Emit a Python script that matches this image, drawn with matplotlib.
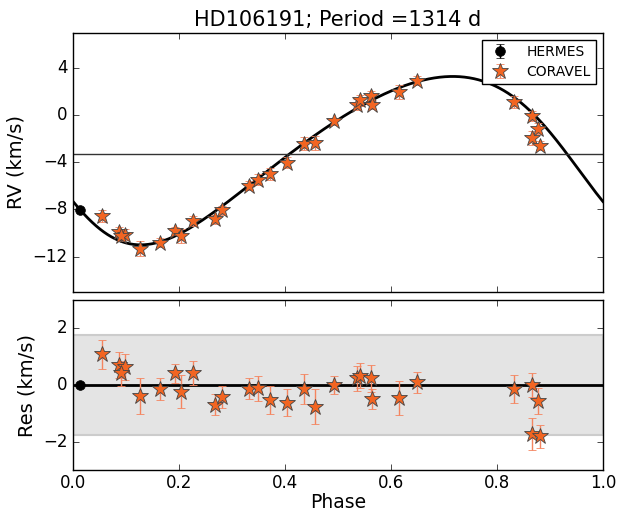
import numpy as np
import matplotlib
matplotlib.use('Agg')
import matplotlib.pyplot as plt

# orbit parameters
period = 1314.0
gamma = -3.3
K = 7.15
ecc = 0.16
omega = np.radians(119.0)
jitter = 1.75

# HERMES point
herm_phase = [0.0126]
herm_rv = [-8.06]
herm_err = [0.05]
herm_res = [0.0]

# CORAVEL points
cor_phase = [0.054, 0.087, 0.0975, 0.091, 0.126, 0.164, 0.192, 0.204, 0.227, 0.267,
             0.281, 0.333, 0.349, 0.371, 0.403, 0.436, 0.456, 0.492, 0.535, 0.542,
             0.562, 0.565, 0.616, 0.649, 0.833, 0.866, 0.877, 0.867, 0.881]
cor_rv = [-8.57, -9.93, -10.13, -10.27, -11.34, -10.83, -9.85, -10.27, -9.0, -8.85,
          -8.06, -5.97, -5.46, -5.03, -4.04, -2.40, -2.35, -0.51, 0.91, 1.27,
          1.61, 0.91, 1.95, 2.95, 1.14, -0.08, -1.13, -1.92, -2.57]
cor_res = [1.09, 0.70, 0.64, 0.41, -0.39, -0.15, 0.41, -0.23, 0.43, -0.69,
           -0.43, -0.14, -0.12, -0.53, -0.62, -0.14, -0.76, 0.0, 0.23, 0.33,
           0.23, -0.50, -0.47, 0.09, -0.15, 0.0, -0.58, -1.73, -1.81]
cor_err = [0.51, 0.45, 0.45, 0.45, 0.63, 0.38, 0.33, 0.58, 0.43, 0.38,
           0.38, 0.37, 0.44, 0.51, 0.47, 0.53, 0.63, 0.31, 0.45, 0.45,
           0.48, 0.35, 0.60, 0.38, 0.49, 0.44, 0.46, 0.57, 0.41]


def kepler_rv(phase):
    M = 2 * np.pi * phase
    E = M.copy()
    for i in range(50):
        E = E - (E - ecc * np.sin(E) - M) / (1 - ecc * np.cos(E))
    nu = 2 * np.arctan2(np.sqrt(1 + ecc) * np.sin(E / 2), np.sqrt(1 - ecc) * np.cos(E / 2))
    return gamma + K * (np.cos(nu + omega) + ecc * np.cos(omega))


plt.style.use('classic')
plt.rcParams['figure.facecolor'] = 'white'
plt.rcParams['savefig.facecolor'] = 'white'

fig = plt.figure(figsize=(6.19, 5.13), dpi=100)
ax1 = fig.add_axes([0.118, 0.431, 0.856, 0.505])
ax2 = fig.add_axes([0.118, 0.084, 0.856, 0.331])

star_fc = '#f26522'
err_c = '#f4845f'

ph = np.linspace(0, 1, 1000)
ax1.plot(ph, kepler_rv(ph), 'k-', lw=2)
ax1.axhline(gamma, color='#333333', lw=1)
ax1.errorbar(herm_phase, herm_rv, yerr=herm_err, fmt='o', color='k', mec='k',
             ms=7, label='HERMES')
ax1.errorbar(cor_phase, cor_rv, yerr=cor_err, fmt='*', ms=12, mfc=star_fc,
             mec='#444444', mew=0.6, ecolor=err_c, capsize=3, label='CORAVEL')
ax1.set_xlim(0, 1)
ax1.set_ylim(-15, 7)
ax1.set_yticks([4, 0, -4, -8, -12])
ax1.set_xticks([0, 0.2, 0.4, 0.6, 0.8, 1.0])
ax1.set_xticklabels([])
ax1.set_ylabel('RV (km/s)', fontsize=14)
ax1.set_title('HD106191; Period =%d d' % period, fontsize=15)
ax1.tick_params(labelsize=12)
ax1.legend(loc='upper right', numpoints=1, fontsize=10, handletextpad=0.9,
           borderpad=0.35, labelspacing=0.45)

ax2.axhspan(-jitter, jitter, color='#e4e4e4', ec='#cccccc', lw=1.5)
ax2.axhline(0, color='k', lw=2)
ax2.errorbar(herm_phase, herm_res, yerr=herm_err, fmt='o', color='k', mec='k', ms=7)
ax2.errorbar(cor_phase, cor_res, yerr=cor_err, fmt='*', ms=12, mfc=star_fc,
             mec='#444444', mew=0.6, ecolor=err_c, capsize=3)
ax2.set_xlim(0, 1)
ax2.set_ylim(-3, 3)
ax2.set_yticks([-2, 0, 2])
ax2.set_xticks([0, 0.2, 0.4, 0.6, 0.8, 1.0])
ax2.set_xlabel('Phase', fontsize=13.5, labelpad=1)
ax2.set_ylabel('Res (km/s)', fontsize=14)
ax2.tick_params(labelsize=12)
ax2.tick_params(axis='x', pad=3)

fig.savefig('out.png', dpi=100)
